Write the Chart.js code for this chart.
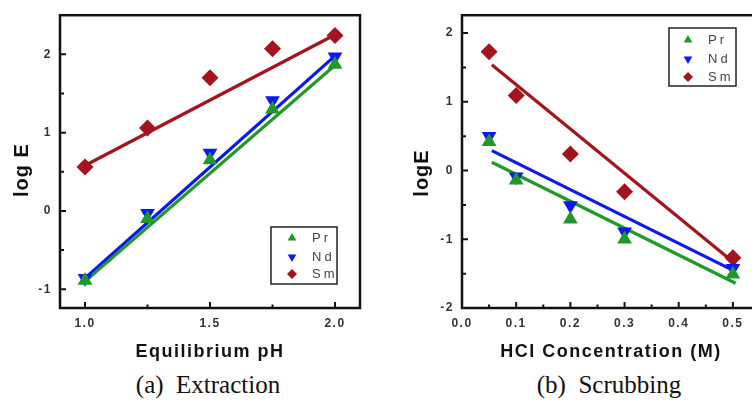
<!DOCTYPE html>
<html>
<head>
<meta charset="utf-8">
<script src="https://cdn.jsdelivr.net/npm/chart.js@4.4.1/dist/chart.umd.min.js"></script>
<style>
  body { margin: 0; background: #fff; width: 752px; height: 403px; overflow: hidden; position: relative; }
  .panel { position: absolute; top: 0; height: 370px; overflow: hidden; }
  #pa { left: 0; width: 376px; }
  #pb { left: 376px; width: 376px; }
  .panel canvas { position: absolute; top: 0; left: 0; }
  .cap { position: absolute; top: 371px; width: 300px; font: 25px "Liberation Serif", serif; color: #111; text-align: center; white-space: pre; }
</style>
</head>
<body>
<div class="panel" id="pa"><canvas id="chartA" width="376" height="370"></canvas></div>
<div class="panel" id="pb"><canvas id="chartB" width="400" height="370"></canvas></div>
<div class="cap" style="left:58px">(a)  Extraction</div>
<div class="cap" style="left:459px">(b)  Scrubbing</div>
<script>
/* ================= DATA ================= */

const seriesNames = ["Pr", "Nd", "Sm"];

// (a) Extraction
const phA = [1.0, 1.25, 1.5, 1.75, 2.0];
const prA = [-0.89, -0.10, 0.65, 1.30, 1.87];
const ndA = [-0.86, -0.03, 0.74, 1.41, 1.97];
const smA = [0.56, 1.06, 1.70, 2.07, 2.24];
const fitXA = [1.0, 2.0];
const prFitA = [-0.90, 1.86];
const ndFitA = [-0.86, 1.98];
const smFitA = [0.58, 2.25];
const xMajorA = [1.0, 1.5, 2.0];
const xMinorA = [1.25, 1.75];
const yMajorA = [-1, 0, 1, 2];
const yMinorA = [-0.5, 0.5, 1.5];

// (b) Scrubbing
const hclB = [0.05, 0.1, 0.2, 0.3, 0.5];
const prB = [0.42, -0.14, -0.71, -1.00, -1.51];
const ndB = [0.50, -0.09, -0.51, -0.89, -1.42];
const smB = [1.73, 1.09, 0.24, -0.31, -1.27];
const fitXB = [0.055, 0.505];
const prFitB = [0.12, -1.64];
const ndFitB = [0.29, -1.47];
const smFitB = [1.54, -1.36];
const xMajorB = [0, 0.1, 0.2, 0.3, 0.4, 0.5];
const xMinorB = [0.05, 0.15, 0.25, 0.35, 0.45];
const yMajorB = [-2, -1, 0, 1, 2];
const yMinorB = [-1.5, -0.5, 0.5, 1.5];

/* ================= STYLES ================= */

const GREEN = "#1f9a28";
const BLUE = "#0a18f2";
const RED = "#a3141c";

function pts(xs, ys) {
  return xs.map((x, i) => ({ x: x, y: ys[i] }));
}

function markerSet(label, xs, ys, color, style, rot, r) {
  return {
    label: label,
    data: pts(xs, ys),
    showLine: false,
    pointStyle: style,
    pointRotation: rot,
    pointRadius: r,
    pointHoverRadius: r,
    pointBackgroundColor: color,
    pointBorderColor: color,
    pointBorderWidth: 0,
    order: 1
  };
}

function fitSet(xs, ys, color) {
  return {
    label: "",
    data: pts(xs, ys),
    showLine: true,
    borderColor: color,
    borderWidth: 3.2,
    pointRadius: 0,
    fill: false,
    order: 2
  };
}

/* ================= PLUGIN: frame, inward ticks, legend, y title ================= */

const framePlugin = {
  id: "frame",
  beforeDraw(chart) {
    chart.ctx.letterSpacing = "1.5px";
  },
  afterDraw(chart, args, o) {
    const ctx = chart.ctx;
    const a = chart.chartArea;
    const xs = chart.scales.x, ys = chart.scales.y;
    ctx.save();
    ctx.strokeStyle = "#111";
    ctx.lineWidth = 2.5;
    ctx.strokeRect(a.left, a.top, a.right - a.left, a.bottom - a.top);

    ctx.lineWidth = 2;
    ctx.beginPath();
    o.xMajor.forEach(v => { const p = xs.getPixelForValue(v); ctx.moveTo(p, a.bottom); ctx.lineTo(p, a.bottom - 6); });
    o.xMinor.forEach(v => { const p = xs.getPixelForValue(v); ctx.moveTo(p, a.bottom); ctx.lineTo(p, a.bottom - 3.5); });
    o.yMajor.forEach(v => { const p = ys.getPixelForValue(v); ctx.moveTo(a.left, p); ctx.lineTo(a.left + 6, p); });
    o.yMinor.forEach(v => { const p = ys.getPixelForValue(v); ctx.moveTo(a.left, p); ctx.lineTo(a.left + 4, p); });
    ctx.stroke();

    // legend box
    const L = o.legend;
    ctx.lineWidth = 1.5;
    ctx.strokeStyle = "#222";
    ctx.strokeRect(L.x, L.y, L.w, L.h);
    ctx.font = "13px 'Liberation Sans', Arial, sans-serif";
    ctx.letterSpacing = "3px";
    ctx.textBaseline = "middle";
    ctx.textAlign = "left";
    seriesNames.forEach((name, i) => {
      const ds = chart.data.datasets[i];
      const cy = L.y + L.rows[i];
      ctx.fillStyle = ds.pointBackgroundColor;
      Chart.helpers.drawPoint(ctx, {
        pointStyle: ds.pointStyle,
        rotation: ds.pointRotation,
        radius: 5,
        borderWidth: 0
      }, L.x + L.mark, cy);
      ctx.fillStyle = "#444";
      ctx.fillText(name, L.x + L.text, cy);
    });

    // y axis title
    ctx.letterSpacing = "1px";
    ctx.fillStyle = "#111";
    ctx.font = "bold 20px 'Liberation Sans', Arial, sans-serif";
    ctx.translate(o.yTitle.x, o.yTitle.y);
    ctx.rotate(-Math.PI / 2);
    ctx.textAlign = "center";
    ctx.textBaseline = "middle";
    ctx.fillText(o.yTitle.text, 0, 0);
    ctx.restore();
  }
};

const tickFont = { family: "'Liberation Sans', Arial, sans-serif", size: 12, weight: "bold" };
const titleFont = { family: "'Liberation Sans', Arial, sans-serif", size: 18, weight: "bold" };

function makePanel(canvasId, p) {
  return new Chart(document.getElementById(canvasId), {
    type: "scatter",
    data: {
      datasets: [
        markerSet("Pr", p.x, p.pr, GREEN, "triangle", 0, 8.5),
        markerSet("Nd", p.x, p.nd, BLUE, "triangle", 180, 8.5),
        markerSet("Sm", p.x, p.sm, RED, "rectRot", 0, 8.5),
        fitSet(p.fitX, p.prFit, GREEN),
        fitSet(p.fitX, p.ndFit, BLUE),
        fitSet(p.fitX, p.smFit, RED)
      ]
    },
    options: {
      responsive: false,
      animation: false,
      layout: { padding: { top: 7, right: 16, left: 0, bottom: 0 } },
      plugins: {
        legend: { display: false },
        tooltip: { enabled: false },
        frame: p.frame
      },
      scales: {
        x: {
          type: "linear",
          min: p.xMin,
          max: p.xMax,
          afterBuildTicks: s => { s.ticks = p.frame.xMajor.map(v => ({ value: v })); },
          afterFit: s => { s.height = 62; },
          grid: { display: false, drawTicks: false },
          border: { display: false },
          ticks: {
            font: tickFont,
            color: "#333",
            padding: 8,
            maxRotation: 0,
            autoSkip: false,
            callback: v => Number(v).toFixed(1)
          },
          title: {
            display: true,
            text: p.xTitle,
            font: titleFont,
            color: "#111",
            padding: { top: 0, bottom: 7 }
          }
        },
        y: {
          type: "linear",
          min: p.yMin,
          max: p.yMax,
          afterBuildTicks: s => { s.ticks = p.frame.yMajor.map(v => ({ value: v })); },
          afterFit: s => { s.width = p.yWidth; },
          grid: { display: false, drawTicks: false },
          border: { display: false },
          ticks: {
            font: tickFont,
            color: "#333",
            padding: 8,
            autoSkip: false,
            callback: v => String(v)
          }
        }
      }
    },
    plugins: [framePlugin]
  });
}

makePanel("chartA", {
  x: phA, pr: prA, nd: ndA, sm: smA,
  fitX: fitXA, prFit: prFitA, ndFit: ndFitA, smFit: smFitA,
  xMin: 0.9, xMax: 2.1, yMin: -1.24, yMax: 2.5, yWidth: 60,
  xTitle: "Equilibrium pH",
  frame: {
    xMajor: xMajorA, xMinor: xMinorA, yMajor: yMajorA, yMinor: yMinorA,
    legend: { x: 271, y: 227, w: 66, h: 57, rows: [11, 30, 47], mark: 21, text: 41 },
    yTitle: { text: "log E", x: 22, y: 170 }
  }
});

makePanel("chartB", {
  x: hclB, pr: prB, nd: ndB, sm: smB,
  fitX: fitXB, prFit: prFitB, ndFit: ndFitB, smFit: smFitB,
  xMin: 0, xMax: 0.55, yMin: -2, yMax: 2.26, yWidth: 86,
  xTitle: "HCl Concentration (M)",
  frame: {
    xMajor: xMajorB, xMinor: xMinorB, yMajor: yMajorB, yMinor: yMinorB,
    legend: { x: 293, y: 28, w: 67, h: 58, rows: [12, 31, 49], mark: 19, text: 39 },
    yTitle: { text: "logE", x: 46, y: 173 }
  }
});
</script>
</body>
</html>
